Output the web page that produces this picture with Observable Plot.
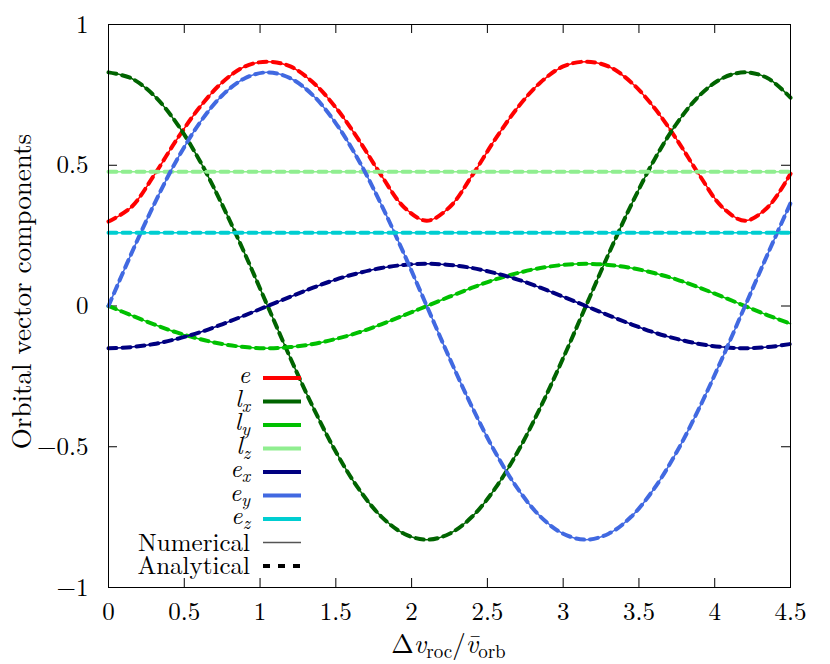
<!DOCTYPE html>
<html><head><meta charset="utf-8">
<script src="https://cdn.jsdelivr.net/npm/d3@7"></script>
<script src="https://cdn.jsdelivr.net/npm/@observablehq/plot@0.6"></script>
<style>
body{margin:0;background:#fff;}
#wrap{position:relative;width:830px;height:664px;}
</style></head><body><div id="wrap"></div>
<script>
// x positions (Δv_roc / v̄_orb)
const xs = [0,0.15,0.3,0.45,0.6,0.75,0.9,1.05,1.2,1.35,1.5,1.65,1.8,1.95,2.1,2.25,2.4,2.55,2.7,2.85,3.0,3.15,3.3,3.45,3.6,3.75,3.9,4.05,4.2,4.35,4.5];
const xsFlat = [0, 4.5];
// series values
const eVals  = [0.300,0.351,0.464,0.591,0.705,0.794,0.851,0.868,0.851,0.794,0.705,0.591,0.464,0.351,0.303,0.351,0.464,0.591,0.705,0.794,0.851,0.868,0.851,0.794,0.705,0.591,0.464,0.351,0.303,0.351,0.470];
const lxVals = [0.830,0.809,0.748,0.649,0.518,0.360,0.185,0.000,-0.185,-0.360,-0.518,-0.649,-0.748,-0.809,-0.830,-0.809,-0.748,-0.649,-0.518,-0.360,-0.185,0.000,0.185,0.360,0.518,0.649,0.748,0.809,0.830,0.809,0.740];
const lyVals = [0.000,-0.033,-0.065,-0.094,-0.117,-0.135,-0.146,-0.150,-0.146,-0.135,-0.117,-0.094,-0.065,-0.033,0.000,0.033,0.065,0.094,0.117,0.135,0.146,0.150,0.146,0.135,0.117,0.094,0.065,0.033,0.000,-0.033,-0.063];
const lzVals = [0.477,0.477];
const exVals = [-0.150,-0.146,-0.135,-0.117,-0.094,-0.065,-0.033,0.000,0.033,0.065,0.094,0.117,0.135,0.146,0.150,0.146,0.135,0.117,0.094,0.065,0.033,0.000,-0.033,-0.065,-0.094,-0.117,-0.135,-0.146,-0.150,-0.146,-0.135];
const eyVals = [0.000,0.185,0.360,0.518,0.649,0.748,0.809,0.830,0.809,0.748,0.649,0.518,0.360,0.185,0.000,-0.185,-0.360,-0.518,-0.649,-0.748,-0.809,-0.830,-0.809,-0.748,-0.649,-0.518,-0.360,-0.185,0.000,0.185,0.365];
const ezVals = [0.260,0.260];
// tick labels
const xTicks = [0,0.5,1,1.5,2,2.5,3,3.5,4,4.5];
const yTicks = [-1,-0.5,0,0.5,1];

const series = [
  {key:"e",  sym:"e", sub:"",  color:"#ff0000", x: xs,     y: eVals},
  {key:"lx", sym:"l", sub:"x", color:"#006400", x: xs,     y: lxVals},
  {key:"ly", sym:"l", sub:"y", color:"#00c000", x: xs,     y: lyVals},
  {key:"lz", sym:"l", sub:"z", color:"#90ee90", x: xsFlat, y: lzVals},
  {key:"ex", sym:"e", sub:"x", color:"#000080", x: xs,     y: exVals},
  {key:"ey", sym:"e", sub:"y", color:"#4169e1", x: xs,     y: eyVals},
  {key:"ez", sym:"e", sub:"z", color:"#00ced1", x: xsFlat, y: ezVals}
];
const rowsOf = s => s.y.map((v, i) => ({x: s.x[i], y: v}));

const W = 830, H = 664, mT = 24, mB = 77, mL = 108, mR = 40;
const tickPx = 9;
const xPerPx = 4.5 / (W - mL - mR), yPerPx = 2 / (H - mT - mB);
const fmt = d => (d < 0 ? "\u2212" + Math.abs(d) : String(d));
const FONT = '"Latin Modern Roman", "Liberation Serif", serif';

const marks = [
  Plot.ruleX(xTicks, {x: d => d, y1: -1, y2: -1 + tickPx * yPerPx, stroke: "#000"}),
  Plot.ruleX(xTicks, {x: d => d, y1: 1, y2: 1 - tickPx * yPerPx, stroke: "#000"}),
  Plot.ruleY(yTicks, {y: d => d, x1: 0, x2: tickPx * xPerPx, stroke: "#000"}),
  Plot.ruleY(yTicks, {y: d => d, x1: 4.5, x2: 4.5 - tickPx * xPerPx, stroke: "#000"})
];
for (const s of series) {
  marks.push(Plot.line(rowsOf(s), {x: "x", y: "y", stroke: s.color, strokeWidth: 1.5, curve: "catmull-rom"}));
  marks.push(Plot.line(rowsOf(s), {x: "x", y: "y", stroke: s.color, strokeWidth: 4, strokeDasharray: "8,6", curve: "catmull-rom"}));
}
marks.push(Plot.frame({stroke: "#000", strokeWidth: 1}));

const svg = Plot.plot({
  width: W, height: H,
  marginTop: mT, marginBottom: mB, marginLeft: mL, marginRight: mR,
  style: {fontSize: "25px", color: "#000", background: "#fff"},
  x: {domain: [0, 4.5], ticks: xTicks, tickSize: 0, tickPadding: 15, tickFormat: fmt, label: null},
  y: {domain: [-1, 1], ticks: yTicks, tickSize: 0, tickPadding: 20, tickFormat: fmt, label: null},
  marks
});
document.getElementById("wrap").appendChild(svg);

const g = d3.select(svg).append("g").attr("fill", "#000");

// y-axis title
g.append("text")
  .attr("transform", "translate(31,291.5) rotate(-90)")
  .attr("text-anchor", "middle").attr("font-size", 27)
  .text("Orbital vector components");

// x-axis title
const xt = g.append("text").attr("x", 448.5).attr("y", 653).attr("text-anchor", "middle").attr("font-size", 27);
xt.append("tspan").text("\u0394");
xt.append("tspan").attr("font-style", "italic").text("v");
xt.append("tspan").attr("font-size", 19).attr("dy", 5).text("roc");
xt.append("tspan").attr("dy", -5).text("/");
xt.append("tspan").attr("font-style", "italic").text("v\u0304");
xt.append("tspan").attr("font-size", 19).attr("dy", 5).text("orb");

// legend
const ly0 = 378, lstep = 23.5, lx1 = 263, lx2 = 301, labelX = 250;
series.forEach((s, i) => {
  const yy = ly0 + i * lstep;
  const t = g.append("text").attr("x", labelX).attr("y", yy + 5).attr("text-anchor", "end").attr("font-size", 25);
  t.append("tspan").attr("font-style", "italic").text(s.sym);
  if (s.sub) t.append("tspan").attr("font-style", "italic").attr("font-size", 18).attr("dy", 5).text(s.sub);
  g.append("line").attr("x1", lx1).attr("x2", lx2).attr("y1", yy).attr("y2", yy).attr("stroke", s.color).attr("stroke-width", 4);
});
const yNum = ly0 + 7 * lstep, yAna = ly0 + 8 * lstep;
g.append("text").attr("x", labelX).attr("y", yNum + 8).attr("text-anchor", "end").attr("font-size", 25).text("Numerical");
g.append("line").attr("x1", lx1).attr("x2", lx2).attr("y1", yNum).attr("y2", yNum).attr("stroke", "#555").attr("stroke-width", 1.5);
g.append("text").attr("x", labelX).attr("y", yAna + 8).attr("text-anchor", "end").attr("font-size", 25).text("Analytical");
g.append("line").attr("x1", lx1).attr("x2", lx2).attr("y1", yAna).attr("y2", yAna).attr("stroke", "#000").attr("stroke-width", 4).attr("stroke-dasharray", "7,8");

// apply the serif font to every text of the figure
d3.select(svg).style("font-family", FONT);
d3.select(svg).selectAll("text").style("font-family", FONT);
</script>
</body></html>
